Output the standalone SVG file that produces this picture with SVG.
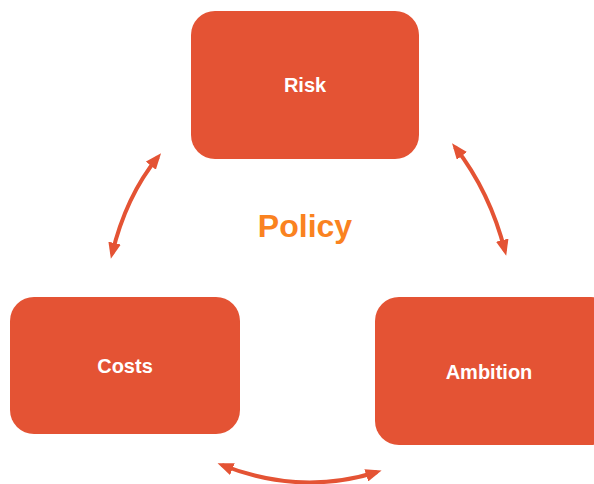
<svg xmlns="http://www.w3.org/2000/svg" width="594" height="484" viewBox="0 0 594 484">
<style>
.box{fill:#E45334}
.lbl{font-family:"Liberation Sans",Arial,sans-serif;font-weight:bold;font-size:20px;fill:#fff;text-anchor:middle}
.title{font-family:"Liberation Sans",Arial,sans-serif;font-weight:bold;font-size:32px;fill:#FA8220;text-anchor:middle}
.conn{fill:none;stroke:#E45334;stroke-width:4;marker-start:url(#ah);marker-end:url(#ah)}
</style>
<defs>
<marker id="ah" viewBox="0 0 10 8" refX="7" refY="4" markerWidth="4" markerHeight="3.2" orient="auto-start-reverse" markerUnits="strokeWidth">
<path d="M0,0 L10,4 L0,8 z" fill="#E45334"/>
</marker>
</defs>
<rect width="594" height="484" fill="#fff"/>
<g id="risk"><rect class="box" x="191" y="11" width="228" height="148" rx="24"/><text class="lbl" x="305" y="92">Risk</text></g>
<g id="ambition"><rect class="box" x="375" y="297" width="240" height="148" rx="24"/><text class="lbl" x="489" y="379">Ambition</text></g>
<g id="costs"><rect class="box" x="10" y="297" width="230" height="137" rx="24"/><text class="lbl" x="125" y="373">Costs</text></g>
<text id="policy" class="title" x="305" y="237">Policy</text>
<g id="connectors">
<path class="conn" d="M158,157 Q126,196 112,254"/>
<path class="conn" d="M455,147 Q490,192 505,251"/>
<path class="conn" d="M222,465 Q300,496 377,472"/>
</g>
</svg>
